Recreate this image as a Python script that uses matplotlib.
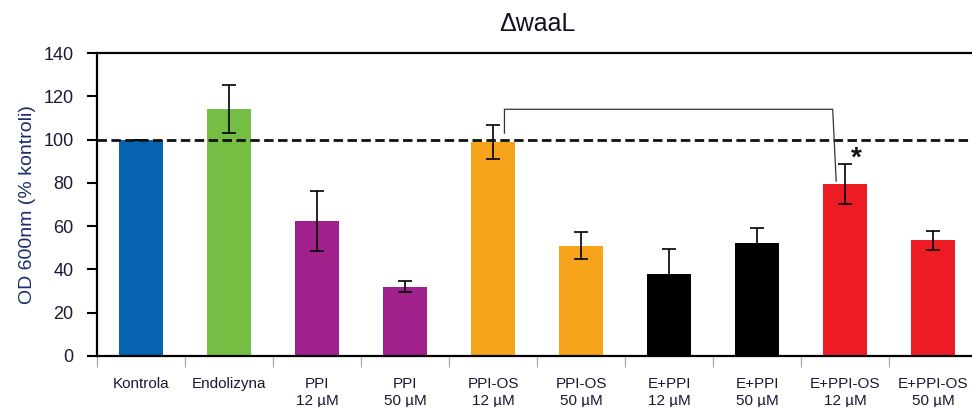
import matplotlib
matplotlib.use("Agg")
import matplotlib.pyplot as plt
import numpy as np

plt.rcParams['font.family'] = ['Liberation Sans', 'DejaVu Sans']
plt.rcParams['lines.scale_dashes'] = False

categories = ["Kontrola", "Endolizyna", "PPI\n12 µM", "PPI\n50 µM", "PPI-OS\n12 µM",
              "PPI-OS\n50 µM", "E+PPI\n12 µM", "E+PPI\n50 µM", "E+PPI-OS\n12 µM",
              "E+PPI-OS\n50 µM"]
values = [100, 114.2, 62.4, 32, 99, 51, 38, 52, 79.4, 53.5]
errors = [0, 11, 14, 2.5, 7.8, 6.2, 11.5, 7, 9.3, 4.3]
colors = ["#0563B0", "#76BD43", "#A0218B", "#A0218B", "#F6A41C", "#F6A41C",
          "#000000", "#000000", "#ED1C24", "#ED1C24"]
yticks = [0, 20, 40, 60, 80, 100, 120, 140]
reference_level = 100
bracket_x = [4.13, 4.13, 7.86, 7.9]
bracket_y = [103, 114, 114, 80.8]
star_pos = (8.13, 91)

fig = plt.figure(figsize=(9.72, 4.07), dpi=100)
ax = fig.add_axes([97/972, 51/407, 880/972, 303/407])

x = np.arange(len(categories))
ax.bar(x, values, width=0.51, color=colors, zorder=2)
ax.errorbar(x, values, yerr=errors, fmt='none', ecolor='black', elinewidth=1.2,
            capsize=4.8, capthick=1.2, zorder=3)

ax.axhline(reference_level, color='#111111', lw=2.0, dashes=(6.8, 3.2), zorder=4)

ax.plot(bracket_x, bracket_y, color='#333333', lw=0.9, zorder=5)
ax.text(star_pos[0], star_pos[1], '*', fontsize=20, fontweight='bold',
        ha='center', va='center', color='#111111', zorder=6)

ax.set_xlim(-0.5, len(categories) - 0.5)
ax.set_ylim(0, 140)
ax.set_yticks(yticks)
ax.set_yticklabels([str(t) for t in yticks], fontsize=13, color='#1a1a33')
ax.tick_params(axis='y', direction='out', length=7, width=1.5, pad=10)

ax.set_xticks(x)
ax.set_xticklabels(categories, fontsize=11, color='#1a1a33', linespacing=1.3)
ax.tick_params(axis='x', which='major', length=0, pad=15)
ax.set_xticks(np.arange(-0.5, len(categories), 1.0), minor=True)
ax.tick_params(axis='x', which='minor', length=8, width=0.9, color='#aaaaaa',
               direction='out')

for s in ['left', 'bottom', 'top']:
    ax.spines[s].set_linewidth(1.6)
    ax.spines[s].set_color('black')
ax.spines['right'].set_visible(False)

ax.set_ylabel("OD 600nm (% kontroli)", fontsize=14, color='#1c2e6b', labelpad=5)
ax.set_title("ΔwaaL", fontsize=18, color='#111122', pad=16)

fig.savefig("out.png", dpi=100)
